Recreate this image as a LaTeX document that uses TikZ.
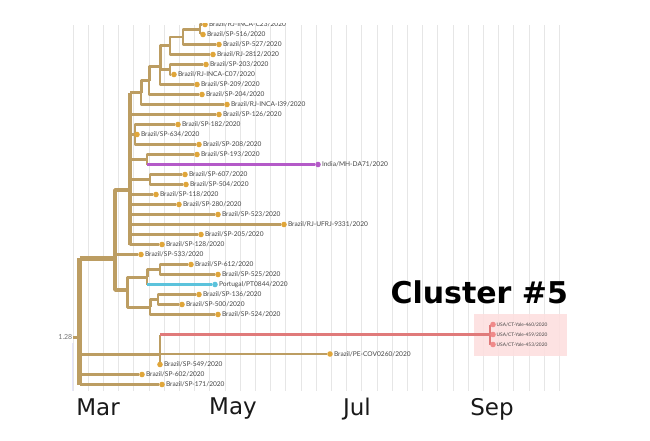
\documentclass[tikz,border=0pt]{standalone}
\usepackage{fontspec}
\setmainfont{Lato}
\newfontfamily\axisfont{DejaVu Sans}
\usetikzlibrary{backgrounds}
\definecolor{brc}{HTML}{BC9D62}
\definecolor{tipc}{HTML}{E0A63A}
\definecolor{purp}{HTML}{B45AC8}
\definecolor{cyanc}{HTML}{5CC3DC}
\definecolor{redc}{HTML}{E07A7A}
\definecolor{reddot}{HTML}{F08A8A}
\definecolor{pinkbox}{HTML}{FDDFDF}
\definecolor{gridc}{HTML}{E6E6E6}
\definecolor{labc}{HTML}{444444}
\begin{document}
\begin{tikzpicture}[x=1pt,y=-1pt,
  lf/.style={draw=brc, line width=2.4pt, line join=round},
  mid/.style={draw=brc, line width=3pt, line join=round},
  big/.style={draw=brc, line width=3.8pt, line join=round},
  huge/.style={draw=brc, line width=5pt, line join=round},
  tip/.style={circle, fill=tipc, inner sep=0pt, minimum size=5.6pt, label distance=1.8pt},
  ptip/.style={tip, fill=purp},
  ctip/.style={tip, fill=cyanc},
  rtip/.style={tip, fill=reddot, minimum size=5.6pt, label distance=1.2pt},
  lab/.style={font=\fontsize{6.6}{7}\selectfont, text=labc, inner sep=0.8pt},
  ulab/.style={font=\fontsize{4.8}{5}\selectfont, text=labc, inner sep=0.5pt},
  month/.style={font=\axisfont\fontsize{23}{25}\selectfont, text=black!90, anchor=base},
  clus/.style={font=\axisfont\bfseries\fontsize{30}{32}\selectfont, text=black, anchor=base west}
]
\useasboundingbox (0,0) rectangle (650,441);

% ---------- tips ----------
\node[tip,label={[lab]0:Brazil/RJ-INCA-C23/2020}] (t0) at (205,24.5) {};
\node[tip,label={[lab]0:Brazil/SP-516/2020}] (t1) at (203,34.5) {};
\node[tip,label={[lab]0:Brazil/SP-527/2020}] (t2) at (219,44.5) {};
\node[tip,label={[lab]0:Brazil/RJ-2812/2020}] (t3) at (213,54.5) {};
\node[tip,label={[lab]0:Brazil/SP-203/2020}] (t4) at (206,64.5) {};
\node[tip,label={[lab]0:Brazil/RJ-INCA-C07/2020}] (t5) at (174,74.5) {};
\node[tip,label={[lab]0:Brazil/SP-209/2020}] (t6) at (197,84.5) {};
\node[tip,label={[lab]0:Brazil/SP-204/2020}] (t7) at (202,94.5) {};
\node[tip,label={[lab]0:Brazil/RJ-INCA-I39/2020}] (t8) at (227,104.5) {};
\node[tip,label={[lab]0:Brazil/SP-126/2020}] (t9) at (219,114.5) {};
\node[tip,label={[lab]0:Brazil/SP-182/2020}] (t10) at (178,124.5) {};
\node[tip,label={[lab]0:Brazil/SP-634/2020}] (t11) at (137,134.5) {};
\node[tip,label={[lab]0:Brazil/SP-208/2020}] (t12) at (199,144.5) {};
\node[tip,label={[lab]0:Brazil/SP-193/2020}] (t13) at (197,154.5) {};
\node[ptip,label={[lab]0:India/MH-DA71/2020}] (t14) at (318,164.5) {};
\node[tip,label={[lab]0:Brazil/SP-607/2020}] (t15) at (185,174.5) {};
\node[tip,label={[lab]0:Brazil/SP-504/2020}] (t16) at (186,184.5) {};
\node[tip,label={[lab]0:Brazil/SP-118/2020}] (t17) at (156,194.5) {};
\node[tip,label={[lab]0:Brazil/SP-280/2020}] (t18) at (179,204.5) {};
\node[tip,label={[lab]0:Brazil/SP-523/2020}] (t19) at (218,214.5) {};
\node[tip,label={[lab]0:Brazil/RJ-UFRJ-9331/2020}] (t20) at (284,224.5) {};
\node[tip,label={[lab]0:Brazil/SP-205/2020}] (t21) at (201,234.5) {};
\node[tip,label={[lab]0:Brazil/SP-128/2020}] (t22) at (162,244.5) {};
\node[tip,label={[lab]0:Brazil/SP-533/2020}] (t23) at (141,254.5) {};
\node[tip,label={[lab]0:Brazil/SP-612/2020}] (t24) at (191,264.5) {};
\node[tip,label={[lab]0:Brazil/SP-525/2020}] (t25) at (218,274.5) {};
\node[ctip,label={[lab]0:Portugal/PT0844/2020}] (t26) at (215,284.5) {};
\node[tip,label={[lab]0:Brazil/SP-136/2020}] (t27) at (199,294.5) {};
\node[tip,label={[lab]0:Brazil/SP-500/2020}] (t28) at (182,304.5) {};
\node[tip,label={[lab]0:Brazil/SP-524/2020}] (t29) at (218,314.5) {};
\node[rtip,label={[ulab]0:USA/CT-Yale-460/2020}] (u1) at (493,324.5) {};
\node[rtip,label={[ulab]0:USA/CT-Yale-459/2020}] (u2) at (493,334.5) {};
\node[rtip,label={[ulab]0:USA/CT-Yale-453/2020}] (u3) at (493,344.5) {};
\node[tip,label={[lab]0:Brazil/PE-COV0260/2020}] (t33) at (330,354) {};
\node[tip,label={[lab]0:Brazil/SP-549/2020}] (t34) at (160,364.5) {};
\node[tip,label={[lab]0:Brazil/SP-602/2020}] (t35) at (142,374.5) {};
\node[tip,label={[lab]0:Brazil/SP-171/2020}] (t36) at (162,384.5) {};

% ---------- internal nodes ----------
\coordinate (n0) at (200,29.5);
\coordinate (n1) at (183,37);
\coordinate (n3) at (170,46);
\coordinate (n5) at (170,69.5);
\coordinate (n4) at (160,66.7);
\coordinate (n6) at (149,80.7);
\coordinate (n7) at (141,92.6);
\coordinate (E) at (130,190);
\coordinate (n9) at (135,134.5);
\coordinate (n10) at (147,159.5);
\coordinate (F) at (150,179.5);
\coordinate (A) at (115,258);
\coordinate (B) at (127,290);
\coordinate (C) at (147,277);
\coordinate (P) at (160,269.5);
\coordinate (D) at (150,307);
\coordinate (Q) at (158,299.5);
\coordinate (root) at (79.5,337);
\coordinate (rstub) at (73,337);
\coordinate (R2) at (160,354);
\coordinate (Cl) at (490,334.5);
\coordinate (gtop) at (72,343);
\coordinate (gbot) at (72,391);

\node[font=\fontsize{7}{8}\selectfont, text=black!55, anchor=east, inner sep=0.5pt] (rootlab) at (73,337) {1.28};

\begin{pgfonlayer}{background}
% grid
\foreach \k in {0,...,32}
  \draw[gridc, line width=0.7pt] ({73+15.2*\k},25) -- ({73+15.2*\k},391);
\draw[draw=black!12!blue!10, line width=1pt] (gtop) -- (gbot);
% highlight box
\fill[pinkbox, opacity=0.9] (474,314) rectangle (567,356);

% top ladder
\draw[lf] (n0) |- (t0);
\draw[lf] (n0) |- (t1);
\draw[lf] (n1) |- (n0);
\draw[lf] (n1) |- (t2);
\draw[lf] (n3) |- (n1);
\draw[lf] (n3) |- (t3);
\draw[lf] (n5) |- (t4);
\draw[lf] (n5) |- (t5);
\draw[mid] (n4) |- (n3);
\draw[mid] (n4) |- (n5);
\draw[lf] (n4) |- (t6);
\draw[mid] (n6) |- (n4);
\draw[lf] (n6) |- (t7);
\draw[mid] (n7) |- (n6);
\draw[lf] (n7) |- (t8);
% E polytomy
\draw[big] (E |- n7) -- (E |- t22);
\draw[mid] (E |- n7) -- (n7);
\draw[lf] (E) |- (t9);
\draw[mid] (E) |- (n9);
\draw[lf] (n9) |- (t10);
\draw[lf] (n9) |- (t11);
\draw[lf] (n9) |- (t12);
\draw[mid] (E) |- (n10);
\draw[lf] (n10) |- (t13);
\draw[lf] (n10) -- (n10 |- t14);
\draw[draw=purp, line width=2.4pt] (n10 |- t14) -- (t14);
\draw[mid] (E) |- (F);
\draw[lf] (F) |- (t15);
\draw[lf] (F) |- (t16);
\draw[lf] (E) |- (t17);
\draw[lf] (E) |- (t18);
\draw[lf] (E) |- (t19);
\draw[lf] (E) |- (t20);
\draw[lf] (E) |- (t21);
\draw[lf] (E) |- (t22);
% A
\draw[big] (A) |- (E);
\draw[big] (A) |- (B);
\draw[lf] (A) |- (t23);
\draw[mid] (B) |- (C);
\draw[mid] (B) |- (D);
\draw[mid] (C) |- (P);
\draw[lf] (P) |- (t24);
\draw[lf] (P) |- (t25);
\draw[lf] (C) -- (C |- t26);
\draw[draw=cyanc, line width=2.4pt] (C |- t26) -- (t26);
\draw[mid] (D) |- (Q);
\draw[lf] (Q) |- (t27);
\draw[lf] (Q) |- (t28);
\draw[lf] (D) |- (t29);
% root
\draw[huge] (root |- A) -- (root |- t36);
\draw[huge] (root |- A) -- (A);
\draw[mid] (rstub) -- (root);
\draw[mid] (root |- R2) -- (R2);
\draw[lf] (root |- t35) -- (t35);
\draw[lf] (root |- t36) -- (t36);
% R2
\draw[lf] (R2 |- Cl) -- (t34);
\draw[lf] (R2) -- (t33);
\draw[draw=redc, line width=2.6pt] (R2 |- Cl) -- (Cl);
\draw[draw=redc, line width=2.6pt, line join=round] (Cl) |- (u1);
\draw[draw=redc, line width=2.6pt, line join=round] (Cl) |- (u3);
\draw[draw=redc, line width=2.6pt] (Cl) -- (u2);
\end{pgfonlayer}

% cut the top row as in the reference
\fill[white] (0,0) rectangle (650,23);

% axis labels and title
\node[month] (mMar) at (98,415) {Mar};
\node[month] (mMay) at (233,414) {May};
\node[month] (mJul) at (357,415) {Jul};
\node[month] (mSep) at (492,415) {Sep};
\node[clus] (ctitle) at (387,303) {Cluster \#5};
\end{tikzpicture}
\end{document}
